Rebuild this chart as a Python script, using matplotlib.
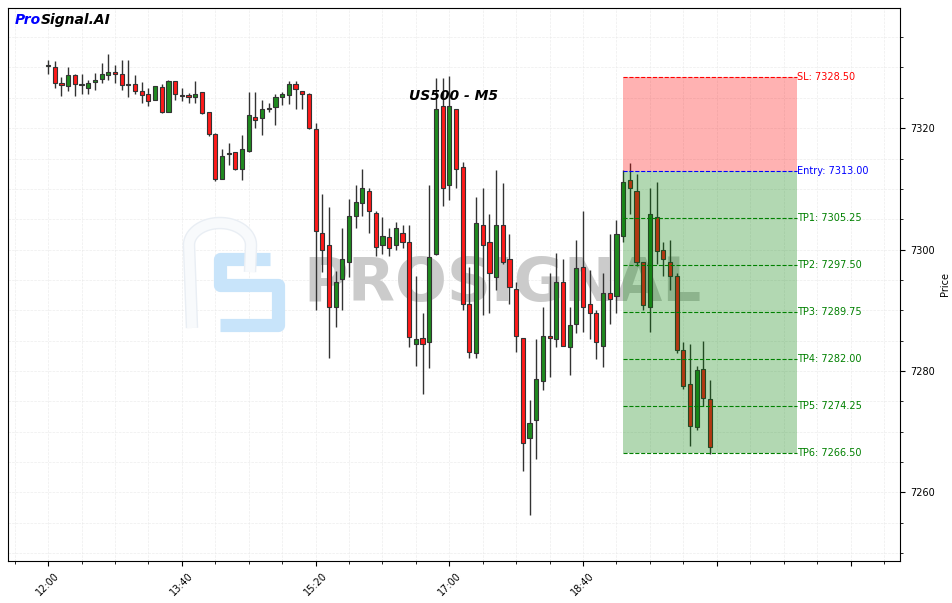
import pandas as pd
import numpy as np
import matplotlib
matplotlib.use("Agg")
import matplotlib.pyplot as plt
from matplotlib.ticker import MultipleLocator, FixedLocator

## -------------------- data ------------------- ##
opens = [7330.2, 7330.0, 7327.5, 7326.9, 7328.7, 7327.1, 7326.7, 7327.6, 7328.1, 7328.7,
         7329.2, 7329.0, 7327.1, 7327.2, 7326.2, 7325.7, 7324.7, 7326.8, 7322.7, 7327.7,
         7325.55, 7325.4, 7325.1, 7326.0, 7322.6, 7319.1, 7311.6, 7315.7, 7316.0, 7313.3,
         7316.2, 7321.9, 7321.6, 7323.4, 7323.5, 7325.2, 7325.55, 7327.2, 7326.2, 7325.7,
         7319.9, 7302.7, 7300.7, 7290.6, 7295.1, 7298.0, 7305.6, 7307.6, 7309.7, 7306.1,
         7300.7, 7302.0, 7300.7, 7302.7, 7301.2, 7284.5, 7285.5, 7284.7, 7299.2, 7323.6,
         7310.7, 7323.1, 7313.6, 7291.1, 7283.0, 7304.0, 7301.2, 7295.5, 7304.1, 7298.5,
         7293.5, 7285.5, 7269.0, 7272.0, 7278.4, 7285.8, 7285.2, 7294.7, 7284.0, 7287.7,
         7297.2, 7291.0, 7289.6, 7284.2, 7292.9, 7292.4, 7302.2, 7311.5, 7309.6, 7298.0,
         7290.6, 7305.3, 7300.0, 7298.0, 7295.6, 7283.5, 7277.9, 7270.8, 7280.4, 7275.4]
highs = [7331.3, 7331.0, 7328.5, 7330.0, 7329.0, 7329.0, 7328.0, 7329.1, 7330.8, 7332.3,
         7330.4, 7331.3, 7331.3, 7328.7, 7327.6, 7326.6, 7327.0, 7327.2, 7327.9, 7327.8,
         7326.7, 7325.8, 7327.7, 7326.0, 7322.7, 7319.2, 7316.6, 7317.5, 7316.1, 7318.9,
         7326.0, 7326.0, 7324.6, 7324.1, 7325.7, 7326.0, 7327.7, 7327.7, 7326.2, 7325.8,
         7320.9, 7309.1, 7307.0, 7296.4, 7303.6, 7308.4, 7310.7, 7313.2, 7310.1, 7306.4,
         7305.3, 7303.6, 7304.6, 7304.1, 7304.0, 7295.7, 7289.5, 7310.6, 7328.2, 7328.2,
         7328.6, 7323.1, 7314.5, 7297.2, 7308.7, 7310.1, 7305.8, 7313.1, 7311.0, 7302.5,
         7294.7, 7285.5, 7275.2, 7285.2, 7290.6, 7296.2, 7299.5, 7298.5, 7290.6, 7301.5,
         7306.4, 7296.7, 7290.1, 7296.1, 7302.5, 7304.8, 7313.1, 7314.2, 7312.5, 7298.0,
         7310.2, 7311.2, 7301.3, 7301.5, 7296.2, 7284.7, 7284.4, 7280.9, 7284.9, 7278.5]
lows = [7329.0, 7326.7, 7325.3, 7326.1, 7325.3, 7325.6, 7325.7, 7326.3, 7327.5, 7327.9,
        7327.4, 7326.3, 7325.2, 7325.6, 7324.2, 7323.6, 7324.6, 7322.5, 7322.7, 7324.7,
        7324.5, 7324.1, 7324.1, 7322.3, 7318.7, 7311.3, 7311.6, 7313.9, 7313.1, 7311.4,
        7316.1, 7320.1, 7318.8, 7322.7, 7320.6, 7323.9, 7324.0, 7323.1, 7323.2, 7319.8,
        7290.0, 7296.3, 7282.1, 7287.2, 7290.0, 7295.5, 7303.6, 7305.6, 7302.7, 7299.0,
        7299.3, 7299.0, 7300.0, 7300.2, 7284.0, 7280.9, 7276.2, 7280.5, 7299.1, 7307.1,
        7308.2, 7310.2, 7290.1, 7282.1, 7282.2, 7289.2, 7289.5, 7293.4, 7297.7, 7291.0,
        7283.1, 7263.5, 7256.2, 7265.5, 7276.9, 7279.0, 7284.0, 7284.2, 7279.4, 7286.3,
        7286.5, 7285.3, 7282.0, 7280.7, 7287.8, 7289.5, 7301.3, 7305.9, 7297.3, 7290.1,
        7286.5, 7297.7, 7295.7, 7293.4, 7283.0, 7277.1, 7267.7, 7270.2, 7274.3, 7266.4]
closes = [7330.4, 7327.5, 7327.1, 7328.7, 7327.2, 7327.15, 7327.5, 7328.0, 7329.0, 7329.2,
          7329.0, 7327.1, 7327.05, 7326.2, 7325.5, 7324.5, 7327.0, 7322.6, 7327.7, 7325.7,
          7325.3, 7325.2, 7325.7, 7322.5, 7319.0, 7311.6, 7315.5, 7315.75, 7313.2, 7316.5,
          7322.1, 7321.4, 7323.2, 7323.2, 7325.1, 7325.7, 7327.2, 7326.5, 7325.7, 7320.0,
          7303.0, 7300.0, 7290.5, 7294.7, 7298.4, 7305.5, 7307.8, 7310.1, 7306.3, 7300.5,
          7302.2, 7300.3, 7303.5, 7301.2, 7285.6, 7285.2, 7284.5, 7298.7, 7323.2, 7310.2,
          7323.6, 7313.2, 7291.0, 7283.2, 7304.3, 7300.7, 7296.1, 7304.0, 7298.0, 7293.9,
          7285.7, 7268.2, 7271.4, 7278.6, 7285.7, 7285.5, 7294.6, 7284.2, 7287.5, 7297.0,
          7290.5, 7289.6, 7284.7, 7292.8, 7291.8, 7302.5, 7311.2, 7310.1, 7297.9, 7290.9,
          7305.8, 7299.7, 7298.5, 7295.6, 7283.5, 7277.6, 7271.0, 7280.2, 7275.6, 7267.4]

times = pd.date_range("2024-01-01 12:00", periods=len(opens), freq="5min")

symbol = "US500 - M5"
signal_start = 86
signal_end = 112
sl = 7328.50
entry = 7313.00
tps = [7305.25, 7297.50, 7289.75, 7282.00, 7274.25, 7266.50]

df = pd.DataFrame({"Open": opens, "High": highs, "Low": lows, "Close": closes}, index=times)

## -------------------- plot ------------------- ##
fig = plt.figure(figsize=(9.53, 6.03), dpi=100)
ax = fig.add_axes([8 / 953, 1 - 561 / 603, 892 / 953, 553 / 603])

x = np.arange(len(df))
up = df["Close"] >= df["Open"]
colors = np.where(up, "#1f8a1f", "#ff1a1a")
bottoms = np.minimum(df["Open"], df["Close"])
heights = np.maximum((df["Close"] - df["Open"]).abs(), 0.15)

ax.vlines(x, df["Low"], df["High"], color="#333333", linewidth=1.0, zorder=2)
ax.bar(x, heights, bottom=bottoms, width=0.62, color=colors, edgecolor="#333333",
       linewidth=0.8, zorder=3)

# signal zone
ax.fill_between([signal_start, signal_end], entry, sl, color="red", alpha=0.3,
                linewidth=0, zorder=4)
ax.fill_between([signal_start, signal_end], tps[-1], entry, color="green", alpha=0.3,
                linewidth=0, zorder=4)
ax.hlines(sl, signal_start, signal_end, colors="red", linestyles="--", linewidth=0.8, zorder=5)
ax.hlines(entry, signal_start, signal_end, colors="blue", linestyles="--", linewidth=0.8, zorder=5)
ax.text(signal_end, sl, f"SL: {sl:.2f}", color="red", fontsize=7, va="center", ha="left")
ax.text(signal_end, entry, f"Entry: {entry:.2f}", color="blue", fontsize=7, va="center", ha="left")
for i, tp in enumerate(tps):
    ax.hlines(tp, signal_start, signal_end, colors="green", linestyles="--", linewidth=0.8, zorder=5)
    ax.text(signal_end, tp, f"TP{i + 1}: {tp:.2f}", color="green", fontsize=7,
            va="center", ha="left")

# watermark
def px(xp, yp):
    return (xp - 8) / 892, (561 - yp) / 553

wx, wy = px(503, 285)
ax.text(wx, wy, "PROSIGNAL", transform=ax.transAxes, fontsize=44, fontweight="bold",
        color="#cbcbcb", ha="center", va="center", zorder=1)
s_pts = [px(270, 259), px(220, 259), px(220, 285), px(278, 285), px(278, 325), px(220, 325)]
ax.plot([p[0] for p in s_pts], [p[1] for p in s_pts], transform=ax.transAxes,
        color="#c8e4fa", linewidth=9.5, solid_joinstyle="round", solid_capstyle="butt", zorder=1)
t = np.linspace(np.pi, 0, 30)
p_pts = [px(192, 328), px(189, 245)] + [px(220 + 31 * np.cos(a), 245 - 22 * np.sin(a)) for a in t] + [px(250, 272)]
ax.plot([p[0] for p in p_pts], [p[1] for p in p_pts], transform=ax.transAxes,
        color="#e9eef4", linewidth=9, solid_joinstyle="round", solid_capstyle="butt", zorder=1)
ax.plot([p[0] for p in p_pts], [p[1] for p in p_pts], transform=ax.transAxes,
        color="#f8fafc", linewidth=7, solid_joinstyle="round", solid_capstyle="butt", zorder=1)

# titles
ax.text(0.5, 0.84, symbol, transform=ax.transAxes, fontsize=10, fontweight="bold",
        fontstyle="italic", ha="center", va="center")
pro = ax.text(0.008, 0.978, "Pro", transform=ax.transAxes, fontsize=10, fontweight="bold",
              fontstyle="italic", color="blue", ha="left", va="center")
ax.annotate("Signal.AI", xy=(1, 0.5), xycoords=pro, fontsize=10, fontweight="bold",
            fontstyle="italic", color="black", ha="left", va="center")

# axes
ax.set_xlim(-6, 127.4)
ax.set_ylim(7248.7, 7339.8)
ax.yaxis.tick_right()
ax.yaxis.set_label_position("right")
ax.set_ylabel("Price", fontsize=7)
ax.yaxis.set_major_locator(MultipleLocator(20))
ax.yaxis.set_minor_locator(MultipleLocator(5))

major_pos = list(range(0, 121, 20))
ax.xaxis.set_major_locator(FixedLocator(major_pos))
ax.xaxis.set_minor_locator(MultipleLocator(5))
ax.set_xticklabels([times[i].strftime("%H:%M") if i < len(times) else "" for i in major_pos],
                   rotation=45, ha="center", fontsize=7)
ax.tick_params(axis="y", labelsize=7)
ax.tick_params(which="minor", length=2)
ax.grid(which="both", linestyle="--", linewidth=0.5, color="#e6e6e6", alpha=0.7, zorder=0)
ax.set_axisbelow(True)

fig.savefig("out.png", dpi=100)
